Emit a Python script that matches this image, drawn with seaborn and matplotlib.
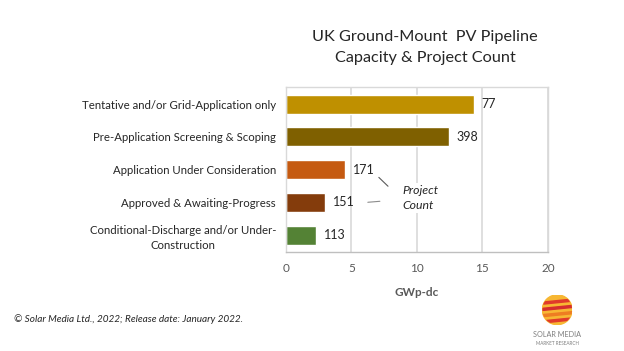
import matplotlib
matplotlib.use("Agg")
import matplotlib.pyplot as plt
import seaborn as sns
import pandas as pd
from matplotlib.patches import Circle

stages = [
    "Tentative and/or Grid-Application only",
    "Pre-Application Screening & Scoping",
    "Application Under Consideration",
    "Approved & Awaiting-Progress",
    "Conditional-Discharge and/or Under-\nConstruction",
]
capacity_gw = [14.35, 12.45, 4.5, 2.98, 2.3]
project_count = [77, 398, 171, 151, 113]
bar_colors = ["#BF9000", "#7F6000", "#C55A11", "#843C0C", "#548235"]

df = pd.DataFrame({"Stage": stages, "GW": capacity_gw, "Count": project_count})

sns.set_theme(style="white")
plt.rcParams["font.family"] = ["Lato", "DejaVu Sans"]

fig = plt.figure(figsize=(6.24, 3.51), dpi=100)
ax = fig.add_axes([0.458, 0.282, 0.42, 0.47])

sns.barplot(data=df, y="Stage", x="GW", hue="Stage", palette=bar_colors,
            legend=False, width=0.58, saturation=1, ax=ax)

ax.set_xlim(0, 20)
ax.set_xticks([0, 5, 10, 15, 20])
ax.xaxis.grid(True, color="#D9D9D9", linewidth=1.2)
ax.set_axisbelow(True)
for s in ax.spines.values():
    s.set_color("#D9D9D9")
    s.set_linewidth(1)
ax.spines["bottom"].set_color("#BFBFBF")
ax.tick_params(axis="x", labelsize=8.5, labelcolor="#595959", length=0, pad=8)
ax.tick_params(axis="y", labelsize=8.2, labelcolor="#262626", length=0, pad=7)
for lab in ax.get_yticklabels():
    lab.set_multialignment("center")
    lab.set_linespacing(1.45)
ax.set_ylabel("")
ax.set_xlabel("GWp-dc", fontsize=8.5, fontweight="bold", color="#595959", labelpad=9)

for i, (v, n) in enumerate(zip(capacity_gw, project_count)):
    ax.text(v + 0.6, i, str(n), va="center", ha="left", fontsize=9, color="#262626")

ax.text(8.9, 2.87, "Project\nCount", style="italic", fontsize=8.8, color="#262626",
        va="center", ha="left", linespacing=1.35,
        bbox=dict(facecolor="white", edgecolor="none", pad=2))
ax.plot([7.1, 7.8], [2.24, 2.51], color="#595959", lw=0.8)
ax.plot([6.26, 7.18], [3.0, 2.97], color="#8C8C8C", lw=0.8)

fig.text(0.681, 0.895, "UK Ground-Mount  PV Pipeline", ha="center", va="center",
         fontsize=11.7, color="#262626")
fig.text(0.681, 0.834, "Capacity & Project Count", ha="center", va="center",
         fontsize=11.7, color="#262626")

fig.text(0.022, 0.09, "© Solar Media Ltd., 2022; Release date: January 2022.",
         style="italic", fontsize=7.2, color="#262626", va="center")

# logo
lax = fig.add_axes([0.868, 0.075, 0.05, 0.085])
lax.set_xlim(-1, 1)
lax.set_ylim(-1, 1)
lax.set_aspect("equal")
lax.axis("off")
lax.add_patch(Circle((0, 0), 1, color="#F7B733"))
for k, c in enumerate(["#E03A2B", "#D62E2E", "#EE7D22", "#E03A2B"]):
    y0 = 0.55 - k * 0.42
    band = lax.fill_between([-1, 1], [y0 - 0.14, y0 + 0.06], [y0, y0 + 0.2], color=c)
    band.set_clip_path(lax.patches[0])
fig.text(0.893, 0.048, "SOLAR MEDIA", ha="center", va="center", fontsize=5.2, color="#7F7F7F")
fig.text(0.893, 0.022, "MARKET RESEARCH", ha="center", va="center", fontsize=3.3, color="#7F7F7F")

fig.savefig("out.png", dpi=100)
